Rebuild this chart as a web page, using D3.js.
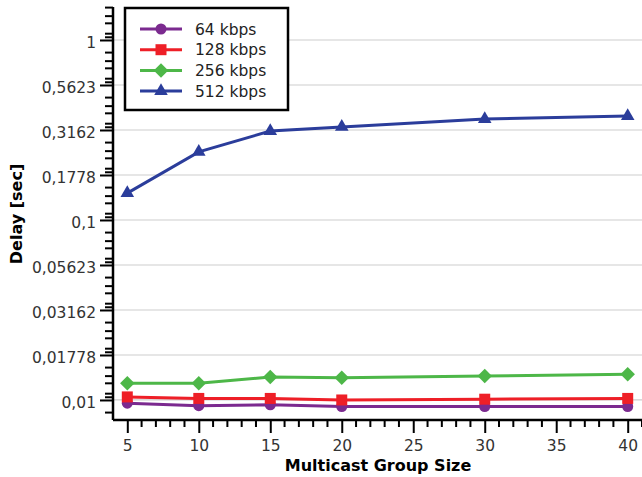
<!DOCTYPE html>
<html><head><meta charset="utf-8">
<script src="https://cdn.jsdelivr.net/npm/d3@7"></script>
<style>body{margin:0;background:#fff}svg{display:block}text{font-family:"DejaVu Sans",sans-serif}</style>
</head><body><svg id="c" width="642" height="477"></svg>
<script>
const groupSizes = [5, 10, 15, 20, 30, 40];
const delay64 = [0.0096, 0.0093, 0.0094, 0.0092, 0.0092, 0.0092];
const delay128 = [0.0104, 0.0102, 0.0102, 0.0100, 0.0101, 0.0102];
const delay256 = [0.0124, 0.0124, 0.0134, 0.0133, 0.0136, 0.0139];
const delay512 = [0.141, 0.239, 0.312, 0.329, 0.364, 0.378];
const seriesNames = ["64 kbps", "128 kbps", "256 kbps", "512 kbps"];
const seriesColors = ["#7b2a8f", "#ee1f27", "#4db748", "#2b3d9b"];
const xTickValues = [5, 10, 15, 20, 25, 30, 35, 40];
const yTickValues = [0.01, 0.01778, 0.03162, 0.05623, 0.1, 0.1778, 0.3162, 0.5623, 1];
const yTickLabels = ["0,01", "0,01778", "0,03162", "0,05623", "0,1", "0,1778", "0,3162", "0,5623", "1"];

const svg = d3.select("#c");
const x = d3.scaleLinear().domain([4, 41]).range([113, 642]);
const y = d3.scaleLog().domain([0.00774, 1.525]).range([420, 7]);

// gridlines
svg.append("g").selectAll("line").data(yTickValues).join("line")
  .attr("x1", 113).attr("x2", 642).attr("y1", d => y(d)).attr("y2", d => y(d))
  .attr("stroke", "#cdcdcd").attr("stroke-width", 1.2);

// minor y ticks
const fr = [0.06, 0.14, 0.37, 0.53, 0.72];
const yMinor = [];
for (let k = -9; k <= 1; k++) fr.forEach(f => { const v = Math.pow(10, (k + f) / 4); if (v > y.domain()[0] && v < y.domain()[1]) yMinor.push(v); });
const xMinor = d3.range(6, 42).filter(v => v % 5 !== 0);

const yAxis = d3.axisLeft(y).tickValues(yTickValues).tickFormat((d, i) => yTickLabels[i]).tickSize(13).tickPadding(4);
const gy = svg.append("g").attr("transform", "translate(113,0)").call(yAxis);
gy.append("g").selectAll("line").data(yMinor).join("line")
  .attr("x1", -8).attr("x2", 0).attr("y1", d => y(d)).attr("y2", d => y(d)).attr("stroke", "#000").attr("stroke-width", 2);
const xAxis = d3.axisBottom(x).tickValues(xTickValues).tickSize(13).tickPadding(7);
const gx = svg.append("g").attr("transform", "translate(0,420)").call(xAxis);
gx.append("g").selectAll("line").data(xMinor).join("line")
  .attr("x1", d => x(d)).attr("x2", d => x(d)).attr("y1", 0).attr("y2", 7).attr("stroke", "#000").attr("stroke-width", 2);

[gx, gy].forEach(g => {
  g.select(".domain").attr("stroke", "#000").attr("stroke-width", 2.5);
  g.selectAll(".tick line").attr("stroke", "#000").attr("stroke-width", 2);
  g.selectAll(".tick text").attr("font-size", 15.5).attr("fill", "#333").attr("font-family", "DejaVu Sans");
});
gy.selectAll(".tick text").attr("dy", "0.5em");
gy.select(".domain").attr("d", "M0,7V420");
gx.select(".domain").attr("d", "M113,0H642");

svg.append("text").attr("x", 378).attr("y", 471).attr("text-anchor", "middle")
  .attr("font-size", 16).attr("font-weight", "bold").text("Multicast Group Size");
svg.append("text").attr("transform", "translate(22,214) rotate(-90)").attr("text-anchor", "middle")
  .attr("font-size", 16).attr("font-weight", "bold").text("Delay [sec]");

const allSeries = [delay64, delay128, delay256, delay512];
const symbols = [
  {type: d3.symbolCircle, size: 95, rot: 0},
  {type: d3.symbolSquare, size: 121, rot: 0},
  {type: d3.symbolSquare, size: 105, rot: 45},
  {type: d3.symbolTriangle, size: 80, rot: 0}
];
const line = d3.line().x((d, i) => x(groupSizes[i])).y(d => y(d));
allSeries.forEach((s, si) => {
  const g = svg.append("g");
  g.append("path").attr("d", line(s)).attr("fill", "none").attr("stroke", seriesColors[si]).attr("stroke-width", 3);
  g.selectAll("path.m").data(s).join("path").attr("class", "m")
    .attr("d", d3.symbol().type(symbols[si].type).size(symbols[si].size))
    .attr("transform", (d, i) => `translate(${x(groupSizes[i])},${y(d)}) rotate(${symbols[si].rot})`)
    .attr("fill", seriesColors[si]);
});

// legend
const lg = svg.append("g");
lg.append("rect").attr("x", 125).attr("y", 8).attr("width", 163).attr("height", 102)
  .attr("fill", "#fff").attr("stroke", "#000").attr("stroke-width", 2.5);
seriesNames.forEach((n, i) => {
  const yy = 29 + i * 20.7;
  lg.append("line").attr("x1", 140).attr("x2", 182).attr("y1", yy).attr("y2", yy).attr("stroke", seriesColors[i]).attr("stroke-width", 3);
  lg.append("path").attr("d", d3.symbol().type(symbols[i].type).size(symbols[i].size)())
    .attr("transform", `translate(161,${yy}) rotate(${symbols[i].rot})`).attr("fill", seriesColors[i]);
  lg.append("text").attr("x", 195).attr("y", yy + 5.5).attr("font-size", 15.5).attr("fill", "#222").text(n);
});
</script></body></html>
